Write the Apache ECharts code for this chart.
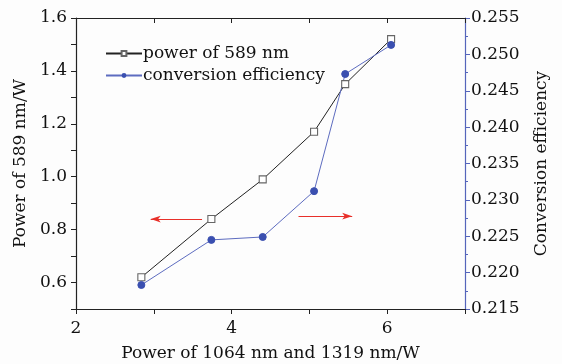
<!DOCTYPE html>
<html>
<head>
<meta charset="utf-8">
<script src="https://cdn.jsdelivr.net/npm/echarts@6/dist/echarts.min.js"></script>
<style>
  html, body { margin: 0; padding: 0; background: #fdfdfd; }
  #chart { width: 562px; height: 364px; }
</style>
</head>
<body>
<div id="chart"></div>
<script>
// pump power (x), 589 nm output power (left axis), conversion efficiency (right axis)
const pumpPower = [2.84, 3.74, 4.40, 5.06, 5.46, 6.05];
const power589 = [0.62, 0.84, 0.99, 1.17, 1.35, 1.52];
const efficiency = [0.2183, 0.2245, 0.2249, 0.2312, 0.2473, 0.2513];

// annotation arrows, in data units: [xFrom, xTo, y on left axis]
const arrowLeft = [3.62, 2.96, 0.84];
const arrowRight = [4.86, 5.55, 0.851];

const FONT = 'DejaVu Serif';
const FS = 17;
const BLUE = '#3a4fb0';

const chart = echarts.init(document.getElementById('chart'), null, { renderer: 'canvas' });

function pairs(xs, ys) { return xs.map(function (x, i) { return [x, ys[i]]; }); }

const arrowStyle = { color: '#e8302a', width: 1.2, type: 'solid' };

chart.setOption({
  backgroundColor: '#fdfdfd',
  animation: false,
  textStyle: { fontFamily: FONT, color: '#111' },
  grid: { left: 76, right: 97, top: 18, bottom: 55, outerBoundsMode: 'none' },
  legend: {
    left: 100, top: 40, orient: 'vertical',
    itemWidth: 36, itemHeight: 6, itemGap: 5,
    textStyle: { fontFamily: FONT, fontSize: FS, color: '#111', padding: [0, 0, 0, -4] },
    data: ['power of 589 nm', 'conversion efficiency'],
  },
  xAxis: [
    {
      type: 'value', min: 2, max: 7, interval: 1,
      name: 'Power of 1064 nm and 1319 nm/W', nameLocation: 'middle', nameGap: 36,
      nameTextStyle: { fontFamily: FONT, fontSize: FS, color: '#111' },
      axisLine: { onZero: false, lineStyle: { color: '#222', width: 1.2 } },
      axisTick: { inside: false, length: 5, lineStyle: { color: '#222' } },
      axisLabel: {
        fontFamily: FONT, fontSize: FS, color: '#111', margin: 11,
        formatter: function (v) { return v % 2 === 0 ? String(v) : ''; },
      },
      splitLine: { show: false },
    },
    {
      type: 'value', min: 2, max: 7, interval: 1, position: 'top',
      axisLine: { onZero: false, lineStyle: { color: '#222', width: 1.2 } },
      axisTick: { inside: true, length: 5, lineStyle: { color: '#222' } },
      axisLabel: { show: false },
      splitLine: { show: false },
    },
  ],
  yAxis: [
    {
      type: 'value', min: 0.5, max: 1.6, interval: 0.1,
      name: 'Power of 589 nm/W', nameLocation: 'middle', nameGap: 46,
      nameTextStyle: { fontFamily: FONT, fontSize: FS, color: '#111' },
      axisLine: { show: true, onZero: false, lineStyle: { color: '#222', width: 1.2 } },
      axisTick: { inside: false, length: 5, lineStyle: { color: '#222' } },
      axisLabel: {
        fontFamily: FONT, fontSize: FS, color: '#111', margin: 9,
        formatter: function (v) {
          const k = Math.round(v * 10);
          return (k % 2 === 0 && k >= 6) ? (k / 10).toFixed(1) : '';
        },
      },
      splitLine: { show: false },
    },
    {
      type: 'value', min: 0.215, max: 0.255, interval: 0.005, position: 'right',
      name: 'Conversion efficiency', nameLocation: 'middle', nameGap: 68, nameRotate: 90,
      nameTextStyle: { fontFamily: FONT, fontSize: FS, color: '#111' },
      axisLine: { show: true, onZero: false, lineStyle: { color: '#5565bb', width: 1.2 } },
      axisTick: { inside: false, length: 5, lineStyle: { color: '#5565bb' } },
      minorTick: { show: true, splitNumber: 2, length: 3, lineStyle: { color: '#5565bb' } },
      axisLabel: {
        fontFamily: FONT, fontSize: FS, color: '#111', margin: 6,
        formatter: function (v) { return v.toFixed(3); },
      },
      splitLine: { show: false },
    },
  ],
  series: [
    {
      name: 'power of 589 nm', type: 'line', xAxisIndex: 0, yAxisIndex: 0,
      data: pairs(pumpPower, power589),
      symbol: 'rect', symbolSize: 7,
      lineStyle: { color: '#222', width: 1 },
      itemStyle: { color: '#fff', borderColor: '#666', borderWidth: 1.1 },
      markLine: {
        silent: true, symbol: ['none', 'arrow'], symbolSize: [5, 10],
        label: { show: false },
        lineStyle: arrowStyle,
        data: [
          [{ coord: [arrowLeft[0], arrowLeft[2]] }, { coord: [arrowLeft[1], arrowLeft[2]] }],
          [{ coord: [arrowRight[0], arrowRight[2]] }, { coord: [arrowRight[1], arrowRight[2]] }],
        ],
      },
    },
    {
      name: 'conversion efficiency', type: 'line', xAxisIndex: 0, yAxisIndex: 1,
      data: pairs(pumpPower, efficiency),
      symbol: 'circle', symbolSize: 7,
      lineStyle: { color: '#5d6cc0', width: 1 },
      itemStyle: { color: BLUE, borderColor: BLUE },
    },
  ],
});
</script>
</body>
</html>
